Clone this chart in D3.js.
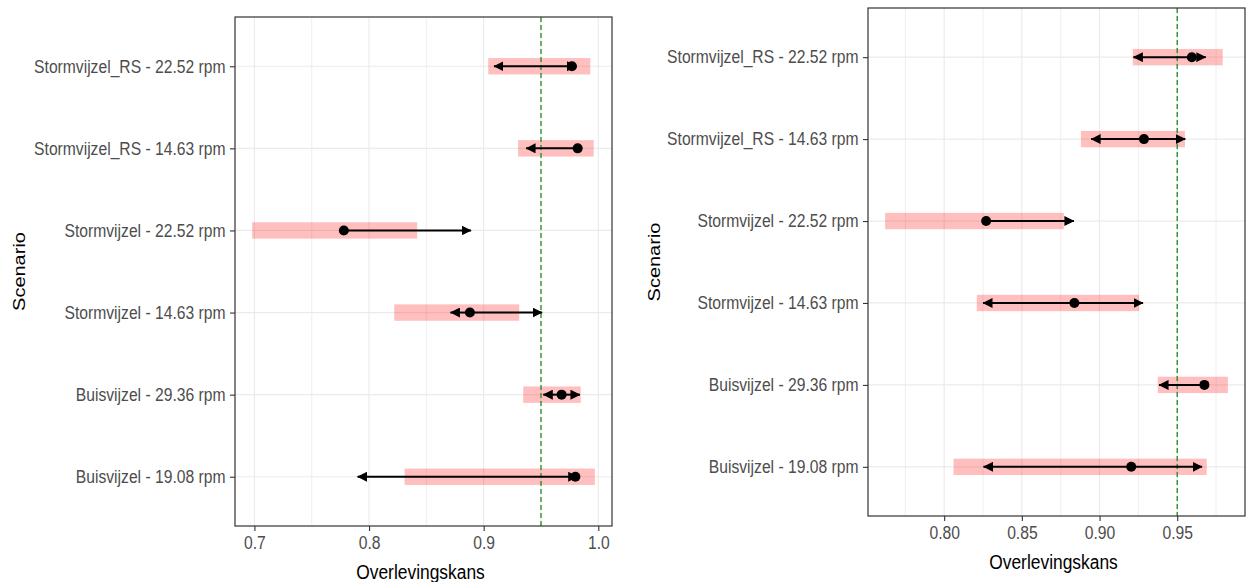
<!DOCTYPE html>
<html>
<head>
<meta charset="utf-8">
<script src="https://cdn.jsdelivr.net/npm/d3@7"></script>
<style>
  body { margin: 0; background: #fff; }
  svg { display: block; font-family: "Liberation Sans", Arial, sans-serif; }
</style>
</head>
<body>
<div id="chart"></div>
<script>
const width = 1251;
const height = 582;
const squeeze = 0.87;   // the text in the original looks narrowed

const scenarios = [
    "Stormvijzel_RS - 22.52 rpm",
    "Stormvijzel_RS - 14.63 rpm",
    "Stormvijzel - 22.52 rpm",
    "Stormvijzel - 14.63 rpm",
    "Buisvijzel - 29.36 rpm",
    "Buisvijzel - 19.08 rpm"
];
const threshold = 0.95;

// left chart
const leftLow   = [0.904, 0.930, 0.698, 0.822, 0.9345, 0.831];
const leftHigh  = [0.993, 0.996, 0.842, 0.931, 0.9847, 0.997];
const leftFrom  = [0.909, 0.937, 0.778, 0.871, 0.952, 0.790];
const leftTo    = [0.981, 0.982, 0.889, 0.951, 0.984, 0.982];
const leftPoint = [0.977, 0.982, 0.778, 0.888, 0.968, 0.980];
const leftTicks = [0.7, 0.8, 0.9, 1.0];
const leftMinor = [0.75, 0.85, 0.95];

// right chart
const rightLow   = [0.9214, 0.888, 0.762, 0.821, 0.9375, 0.806];
const rightHigh  = [0.9793, 0.955, 0.877, 0.9255, 0.9826, 0.969];
const rightFrom  = [0.9218, 0.8946, 0.827, 0.825, 0.9383, 0.8253];
const rightTo    = [0.9684, 0.9552, 0.8835, 0.928, 0.9675, 0.966];
const rightPoint = [0.9594, 0.9286, 0.827, 0.8838, 0.9675, 0.9204];
const rightTicks = [0.80, 0.85, 0.90, 0.95];
const rightMinor = [0.775, 0.825, 0.875, 0.925, 0.975];

const svg = d3.select("#chart")
    .append("svg")
    .attr("width", width)
    .attr("height", height);

svg.append("defs").append("marker")
    .attr("id", "head")
    .attr("viewBox", "0 0 10 10")
    .attr("refX", 9.5)
    .attr("refY", 5)
    .attr("markerUnits", "userSpaceOnUse")
    .attr("markerWidth", 10)
    .attr("markerHeight", 10)
    .attr("orient", "auto")
    .append("path")
    .attr("d", "M0,0 L10,5 L0,10 Z")
    .attr("fill", "#000");

function drawPanel(box, low, high, from, to, point, ticks, minor, fmt) {
    const rows = scenarios.map((s, i) => ({
        name: s, low: low[i], high: high[i], from: from[i], to: to[i], point: point[i]
    }));

    const all = low.concat(high, from, to, point);
    const lo = d3.min(all), hi = d3.max(all);
    const pad = (hi - lo) * 0.05;

    const x = d3.scaleLinear()
        .domain([lo - pad, hi + pad])
        .range([box.x0, box.x1]);

    const y = d3.scalePoint()
        .domain(scenarios)
        .range([box.y0, box.y1])
        .padding(0.6);

    const g = svg.append("g");

    // grid
    g.selectAll(".minor")
        .data(minor)
        .enter().append("line")
        .attr("x1", d => x(d)).attr("x2", d => x(d))
        .attr("y1", box.y0).attr("y2", box.y1)
        .attr("stroke", "#EFEFEF")
        .attr("stroke-width", 1);

    g.selectAll(".major")
        .data(ticks)
        .enter().append("line")
        .attr("x1", d => x(d)).attr("x2", d => x(d))
        .attr("y1", box.y0).attr("y2", box.y1)
        .attr("stroke", "#EBEBEB")
        .attr("stroke-width", 1.2);

    g.selectAll(".hgrid")
        .data(scenarios)
        .enter().append("line")
        .attr("x1", box.x0).attr("x2", box.x1)
        .attr("y1", d => y(d)).attr("y2", d => y(d))
        .attr("stroke", "#EBEBEB")
        .attr("stroke-width", 1.2);

    // intervals
    const band = y.step() * 0.2;
    g.selectAll(".ci")
        .data(rows)
        .enter().append("rect")
        .attr("x", d => x(d.low))
        .attr("width", d => x(d.high) - x(d.low))
        .attr("y", d => y(d.name) - band / 2)
        .attr("height", band)
        .attr("fill", "#FF0000")
        .attr("fill-opacity", 0.25);

    // threshold
    g.append("line")
        .attr("x1", x(threshold)).attr("x2", x(threshold))
        .attr("y1", box.y0).attr("y2", box.y1)
        .attr("stroke", "#1E8C1E")
        .attr("stroke-width", 1.3)
        .attr("stroke-dasharray", "5,3");

    // arrows, from the point out to each end
    const segs = [];
    rows.forEach(d => {
        if (d.from !== d.point) segs.push({ name: d.name, a: d.point, b: d.from });
        if (d.to !== d.point) segs.push({ name: d.name, a: d.point, b: d.to });
    });
    g.selectAll(".arrow")
        .data(segs)
        .enter().append("line")
        .attr("x1", d => x(d.a)).attr("x2", d => x(d.b))
        .attr("y1", d => y(d.name)).attr("y2", d => y(d.name))
        .attr("stroke", "#000")
        .attr("stroke-width", 2)
        .attr("marker-end", "url(#head)");

    g.selectAll(".pt")
        .data(rows)
        .enter().append("circle")
        .attr("cx", d => x(d.point))
        .attr("cy", d => y(d.name))
        .attr("r", 5)
        .attr("fill", "#000");

    // border
    g.append("rect")
        .attr("x", box.x0).attr("y", box.y0)
        .attr("width", box.x1 - box.x0)
        .attr("height", box.y1 - box.y0)
        .attr("fill", "none")
        .attr("stroke", "#333333")
        .attr("stroke-width", 1.2);

    // axes
    const xAxis = d3.axisBottom(x)
        .tickValues(ticks)
        .tickFormat(d3.format(fmt))
        .tickSize(5)
        .tickPadding(5);
    const xg = g.append("g")
        .attr("transform", `translate(0, ${box.y1})`)
        .call(xAxis);
    xg.select(".domain").remove();
    xg.selectAll(".tick line").attr("stroke", "#333333").attr("stroke-width", 1.1);
    xg.selectAll(".tick text")
        .attr("fill", "#4D4D4D")
        .attr("transform", `scale(${squeeze},1)`)
        .style("font-size", "18px")
        .style("font-family", "'Liberation Sans', Arial, sans-serif");

    const yAxis = d3.axisLeft(y)
        .tickSize(5)
        .tickPadding(6);
    const yg = g.append("g")
        .attr("transform", `translate(${box.x0}, 0)`)
        .call(yAxis);
    yg.select(".domain").remove();
    yg.selectAll(".tick line").attr("stroke", "#333333").attr("stroke-width", 1.1);
    yg.selectAll(".tick text")
        .attr("fill", "#4D4D4D")
        .attr("transform", `scale(${squeeze},1)`)
        .style("font-size", "18px")
        .style("font-family", "'Liberation Sans', Arial, sans-serif");

    g.append("text")
        .attr("transform", `translate(${(box.x0 + box.x1) / 2 - 3}, ${box.y1 + 53}) scale(${squeeze},1)`)
        .attr("text-anchor", "middle")
        .style("font-size", "20px")
        .attr("fill", "#000")
        .text("Overlevingskans");

    g.append("text")
        .attr("transform", `translate(${box.titleX}, ${(box.y0 + box.y1) / 2}) rotate(-90) scale(1,${squeeze})`)
        .attr("text-anchor", "middle")
        .style("font-size", "20px")
        .attr("fill", "#000")
        .text("Scenario");
}

drawPanel({ x0: 235, x1: 612, y0: 17, y1: 526, titleX: 25 },
    leftLow, leftHigh, leftFrom, leftTo, leftPoint, leftTicks, leftMinor, ".1f");

drawPanel({ x0: 868, x1: 1245, y0: 8, y1: 516, titleX: 660 },
    rightLow, rightHigh, rightFrom, rightTo, rightPoint, rightTicks, rightMinor, ".2f");
</script>
</body>
</html>
